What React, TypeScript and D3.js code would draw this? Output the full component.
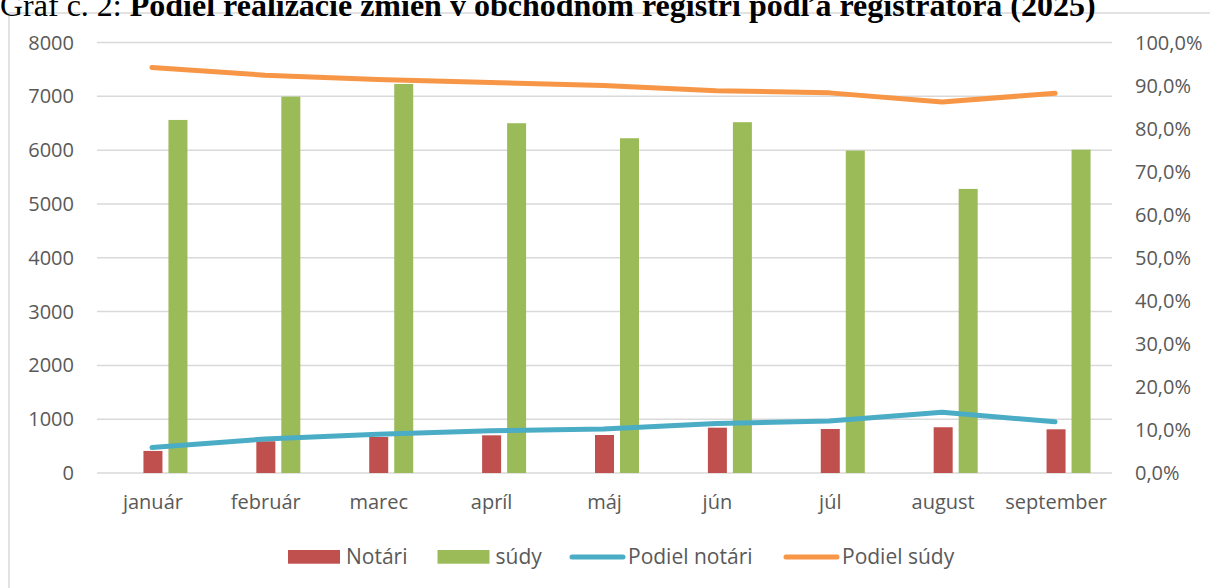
import * as d3 from 'd3';

const months = ['január', 'február', 'marec', 'apríl', 'máj', 'jún', 'júl', 'august', 'september'];
const notari = [410, 590, 670, 700, 706, 842, 818, 850, 812];
const sudy = [6561, 6994, 7230, 6500, 6221, 6519, 5991, 5279, 6009];
const podielNotari = [0.059, 0.079, 0.09, 0.098, 0.102, 0.115, 0.121, 0.141, 0.119];
const podielSudy = [0.942, 0.924, 0.914, 0.907, 0.9, 0.888, 0.883, 0.862, 0.882];
const leftTicks = [0, 1000, 2000, 3000, 4000, 5000, 6000, 7000, 8000];
const rightTicks = [0, 0.1, 0.2, 0.3, 0.4, 0.5, 0.6, 0.7, 0.8, 0.9, 1];

const RED = '#C0504D';
const GREEN = '#9BBB59';
const BLUE = '#4BACC6';
const ORANGE = '#F79646';
const TEXT = '#595959';
const FONT = '"Open Sans", sans-serif';

export default function App() {
  const width = 1210;
  const height = 588;
  const plotLeft = 95.5;
  const plotRight = 1111.5;

  const x = d3.scaleBand<string>().domain(months).range([plotLeft, plotRight]).padding(0);
  const bw = x.bandwidth();
  const cx = (m: string) => (x(m) as number) + bw / 2;

  const y = d3.scaleLinear().domain([0, 8000]).range([473, 42.5]);
  const y2 = d3.scaleLinear().domain([0, 1]).range([473, 42.5]);

  const barW = 19;
  const pct = d3.format('.1f');
  const fmtPct = (v: number) => pct(v * 100).replace('.', ',') + '%';

  const line = d3.line<number>()
    .x((_, i) => cx(months[i]))
    .y(d => y2(d));

  const legend = [
    { type: 'rect', color: RED, label: 'Notári', x: 288 },
    { type: 'rect', color: GREEN, label: 'súdy', x: 437.5 },
    { type: 'line', color: BLUE, label: 'Podiel notári', x: 570 },
    { type: 'line', color: ORANGE, label: 'Podiel súdy', x: 784 },
  ];

  return (
    <div style={{ position: 'absolute', left: 0, top: 0 }}>
      <svg width={width} height={height} style={{ display: 'block', background: '#fff' }}>
        <rect x={9} y={13} width={1220} height={600} fill="none" stroke="#d9d9d9" strokeWidth={1.5} />

        {/* title, partly cut at the top as in the source page */}
        <text x={0} y={16} fontFamily='"Liberation Serif", "Times New Roman", serif' fontSize={32} fill="#000">
          <tspan>Graf č. 2: </tspan>
          <tspan fontWeight="bold">Podiel realizácie zmien v obchodnom registri podľa registrátora (2025)</tspan>
        </text>

        {/* gridlines */}
        {leftTicks.map(t => (
          <line key={t} x1={97} x2={1112} y1={y(t)} y2={y(t)} stroke="#d9d9d9" strokeWidth={1.5} />
        ))}

        {/* left axis labels */}
        {leftTicks.map(t => (
          <text key={t} x={74} y={y(t)} dy="0.35em" textAnchor="end" fontFamily={FONT} fontSize={20} fill={TEXT}>
            {t}
          </text>
        ))}

        {/* right axis labels */}
        {rightTicks.map(t => (
          <text key={t} x={1135} y={y2(t)} dy="0.35em" textAnchor="start" fontFamily={FONT} fontSize={20} fill={TEXT}>
            {fmtPct(t)}
          </text>
        ))}

        {/* bars */}
        {months.map((m, i) => (
          <g key={m}>
            <rect x={cx(m) - 8.5} y={y(notari[i])} width={barW} height={y(0) - y(notari[i])} fill={RED} />
            <rect x={cx(m) + 16.5} y={y(sudy[i])} width={barW} height={y(0) - y(sudy[i])} fill={GREEN} />
          </g>
        ))}

        {/* share lines */}
        <path d={line(podielNotari) || ''} fill="none" stroke={BLUE} strokeWidth={5} strokeLinecap="round" strokeLinejoin="round" />
        <path d={line(podielSudy) || ''} fill="none" stroke={ORANGE} strokeWidth={5} strokeLinecap="round" strokeLinejoin="round" />

        {/* category labels */}
        {months.map(m => (
          <text key={m} x={cx(m) + 1} y={509} textAnchor="middle" fontFamily={FONT} fontSize={20} fill={TEXT}>
            {m}
          </text>
        ))}

        {/* legend */}
        {legend.map(l => (
          <g key={l.label}>
            {l.type === 'rect'
              ? <rect x={l.x} y={550} width={52} height={13.7} fill={l.color} />
              : <line x1={l.x + 2} x2={l.x + 53} y1={557} y2={557} stroke={l.color} strokeWidth={5} strokeLinecap="round" />}
            <text x={l.x + 58} y={557} dy="0.35em" fontFamily={FONT} fontSize={21} fill={TEXT}>
              {l.label}
            </text>
          </g>
        ))}
      </svg>
    </div>
  );
}
